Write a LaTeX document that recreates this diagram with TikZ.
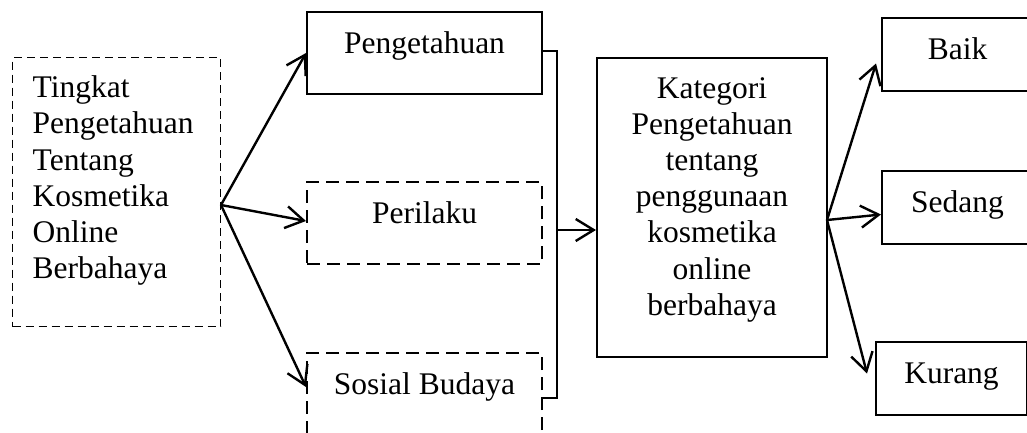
\documentclass[tikz,border=0pt]{standalone}
\usepackage{fontspec}
\setmainfont{Liberation Serif}
\usepackage{tikz}
\usetikzlibrary{arrows.meta}
\tikzstyle{block} = [rectangle, minimum width=235pt, inner sep=0pt, text height=41pt, text depth=41pt, text centered, draw=black, line width=2pt]
\tikzstyle{dblock} = [block, dash pattern=on 13pt off 7pt]
\tikzstyle{sidebox} = [rectangle, inner ysep=0pt, inner xsep=20pt, text width=168pt, text height=40pt, text depth=229pt, align=left, draw=black, line width=1.4pt, dash pattern=on 8pt off 5pt]
\tikzstyle{catbox} = [rectangle, inner ysep=0pt, inner xsep=10pt, text width=210pt, text height=40pt, text depth=259pt, align=center, draw=black, line width=2pt]
\tikzstyle{result} = [rectangle, minimum width=151pt, inner sep=0pt, text height=41pt, text depth=32pt, text centered, draw=black, line width=2pt]
\tikzstyle{link} = [line width=2pt]
\tikzstyle{arrow} = [line width=2.4pt,-{Straight Barb[length=18pt,width=22pt]}]

\begin{document}
\begin{tikzpicture}[x=1pt, y=-1pt, font=\fontsize{31.5}{36.2}\selectfont]
        \useasboundingbox (0,0) rectangle (1027,432);
        \node (ting) [sidebox, anchor=north west] at (12,57) {Tingkat\\ Pengetahuan\\ Tentang\\ Kosmetika\\ Online\\ Berbahaya};
        \node (peng) [block, anchor=north west] at (306,11) {Pengetahuan};
        \node (peri) [dblock, anchor=north west] at (306,181) {Perilaku};
        \node (sos) [dblock, anchor=north west] at (306,352) {Sosial Budaya};
        \node (kat) [catbox, anchor=north west] at (596,57) {Kategori\\ Pengetahuan\\ tentang\\ penggunaan\\ kosmetika\\ online\\ berbahaya};
        \node (baik) [result, anchor=north west] at (881,17) {Baik};
        \node (sed) [result, anchor=north west] at (881,170) {Sedang};
        \node (kur) [result, anchor=north west] at (875,341) {Kurang};
        \coordinate (lsrc) at (221,205);
        \coordinate (rsrc) at (827,220);
        \coordinate (join) at (557,230);
        \coordinate (pengout) at ([yshift=2pt]peng.east);
        \coordinate (sosout) at ([yshift=-4pt]sos.east);

        \draw [arrow] (lsrc) -- (peng.west);
        \draw [arrow] (lsrc) -- ([yshift=2pt]peri.west);
        \draw [arrow] (lsrc) -- ([yshift=7pt]sos.west);
        \draw [link] (pengout) -| (join |- sosout) -- (sosout);
        \draw [arrow] (join) -- (kat.west |- join);
        \draw [arrow] (rsrc) -- ([xshift=-5pt,yshift=-9pt]baik.west);
        \draw [arrow] (rsrc) -- ([yshift=-7pt]sed.west);
        \draw [arrow] (rsrc) -- ([xshift=-8pt,yshift=5pt]kur.west);
    \end{tikzpicture}
\end{document}
